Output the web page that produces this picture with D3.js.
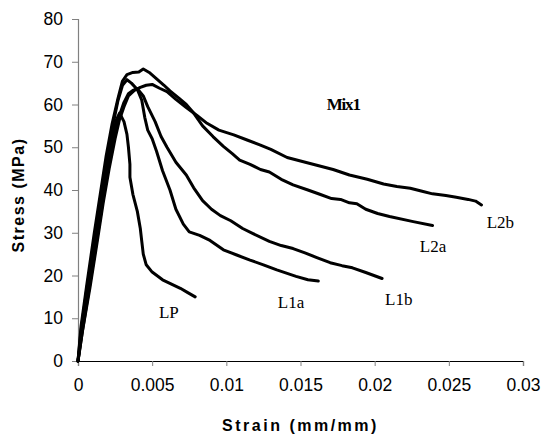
<!DOCTYPE html>
<html lang="en">
<head>
  <meta charset="UTF-8">
  <title>Mix1 stress-strain</title>
  <script src="https://d3js.org/d3.v7.min.js"></script>
  <style>
    body { margin: 0; background: #fff; }
    svg { display: block; }
    .tick text { font-family: "Liberation Sans", Arial, sans-serif; font-size: 17.5px; fill: #000; }
    .axis-title { font-family: "Liberation Sans", Arial, sans-serif; font-weight: bold; font-size: 16px; }
    .curve-label { font-family: "Liberation Serif", "Times New Roman", serif; font-size: 17px; }
  </style>
</head>
<body>
  <script>
    // strain (mm/mm), stress (MPa)
    const LP = [[0,0],[0.0002,7],[0.0006,17],[0.0011,28],[0.0015,37],[0.0019,45],[0.0023,52],[0.0026,56.5],[0.0028,58],
      [0.0031,56],[0.0033,53],[0.0034,50],[0.0035,46],[0.0035,43],[0.0037,39],[0.0040,35],[0.0042,31],[0.0043,28],
      [0.0044,25],[0.0046,22.5],[0.0050,20.8],[0.0057,19],[0.0063,18],[0.0069,17],[0.0074,16],[0.0079,15]];

    const L1a = [[0,0],[0.0003,8],[0.0007,18],[0.0012,30],[0.0016,39],[0.002,48],[0.0024,56],[0.0027,61],[0.003,64.5],
      [0.0033,65.8],[0.0036,65],[0.004,63.5],[0.0043,61],[0.0045,57],[0.0047,54],[0.0050,52],[0.0053,49],[0.0057,44.5],
      [0.0062,40],[0.0066,35.5],[0.0071,32],[0.0075,30.2],[0.0082,29.4],[0.0089,28.2],[0.0098,26],[0.0107,24.8],
      [0.0116,23.6],[0.0125,22.5],[0.0134,21.3],[0.0147,19.8],[0.0155,19],[0.0162,18.7]];

    const L1b = [[0,0],[0.0003,7],[0.0008,18],[0.0013,29],[0.0017,38],[0.0021,46],[0.0025,53],[0.0028,57.5],[0.0031,60.5],
      [0.0034,62.5],[0.0037,63.3],[0.004,63.7],[0.0044,62],[0.0047,59.5],[0.0052,56],[0.0056,52.5],[0.006,50],
      [0.0066,46.5],[0.0073,43.5],[0.0078,40.5],[0.0084,37.5],[0.009,35.5],[0.0096,34],[0.0103,32.8],[0.0111,31],
      [0.0118,29.8],[0.0129,28],[0.0137,27],[0.0145,26.3],[0.0153,25.3],[0.0161,24.2],[0.017,23],[0.0178,22.3],
      [0.0185,21.8],[0.0194,20.7],[0.0205,19.3]];

    const L2a = [[0,0],[0.0002,8],[0.0006,18],[0.0011,30],[0.0015,39],[0.0019,48],[0.0023,55.5],[0.0027,61.5],[0.003,65.5],
      [0.0033,67],[0.0037,67.5],[0.0041,67.6],[0.0044,68.3],[0.0048,67.5],[0.0053,66],[0.0058,64.5],[0.0062,63.2],
      [0.0068,61.5],[0.0073,60],[0.0078,58],[0.0084,55],[0.0091,52.5],[0.0098,50.2],[0.0104,48.5],[0.0109,47],
      [0.0116,46],[0.0123,44.8],[0.0129,44.2],[0.0137,42.5],[0.0145,41.2],[0.0155,40],[0.0163,39],[0.0171,38],
      [0.0177,37.8],[0.0183,37],[0.0188,36.8],[0.0194,35.5],[0.0202,34.5],[0.021,33.8],[0.0226,32.6],[0.0239,31.7]];

    const L2b = [[0,0],[0.0003,7],[0.0008,17],[0.0013,28],[0.0017,37],[0.0021,45],[0.0025,52],[0.0028,56.5],[0.0031,59.5],
      [0.0034,62],[0.0038,63.3],[0.0042,64],[0.0046,64.5],[0.005,64.7],[0.0055,63.8],[0.006,63],[0.0066,61.2],
      [0.0073,59.3],[0.008,57.5],[0.0087,55.6],[0.0095,54],[0.0105,52.9],[0.0114,51.7],[0.0123,50.5],[0.013,49.5],
      [0.0141,47.6],[0.015,46.8],[0.0161,45.8],[0.0172,44.8],[0.0183,43.5],[0.0195,42.5],[0.0206,41.4],[0.0215,40.8],
      [0.0224,40.4],[0.0232,39.7],[0.0239,39.1],[0.0248,38.7],[0.0255,38.3],[0.0263,37.8],[0.0268,37.4],[0.0272,36.5]];

    const seriesNames = ["LP", "L1a", "L1b", "L2a", "L2b"];
    const seriesData = [LP, L1a, L1b, L2a, L2b];

    // curve labels, anchored in data units
    const labelText = ["LP", "L1a", "L1b", "L2a", "L2b"];
    const labelAt = [[0.00546, 10], [0.01347, 12.4], [0.0207, 13.1], [0.02304, 25.5], [0.02755, 31.1]];

    const xTicks = [0, 0.005, 0.01, 0.015, 0.02, 0.025, 0.03];
    const yTicks = [0, 10, 20, 30, 40, 50, 60, 70, 80];

    const width = 544, height = 439;
    const margin = { left: 78, right: 21, top: 19, bottom: 78 };

    const svg = d3.select("body").append("svg")
      .attr("width", width)
      .attr("height", height);

    const x = d3.scaleLinear().domain([0, 0.03]).range([margin.left, width - margin.right]);
    const y = d3.scaleLinear().domain([0, 80]).range([height - margin.bottom, margin.top]);

    // y axis (grey line, ticks outward)
    const yAxis = svg.append("g")
      .attr("transform", `translate(${margin.left},0)`)
      .call(d3.axisLeft(y).tickValues(yTicks).tickFormat(d3.format("d")).tickSize(6).tickPadding(9));
    yAxis.select(".domain").attr("stroke", "#808080").attr("stroke-width", 1.2);
    yAxis.selectAll(".tick line").attr("stroke", "#808080");

    // x axis
    const xAxis = svg.append("g")
      .attr("transform", `translate(0,${y(0)})`)
      .call(d3.axisBottom(x).tickValues(xTicks).tickFormat(d => d === 0 ? "0" : String(d)).tickSize(5).tickPadding(13));
    xAxis.select(".domain").attr("stroke", "#000").attr("stroke-width", 1.2);
    xAxis.selectAll(".tick line").attr("stroke", "#808080");

    const line = d3.line()
      .x(d => x(d[0]))
      .y(d => y(d[1]));

    svg.append("g").selectAll("path")
      .data(seriesData)
      .join("path")
      .attr("class", (d, i) => "curve " + seriesNames[i])
      .attr("fill", "none")
      .attr("stroke", "#000")
      .attr("stroke-width", 3)
      .attr("stroke-linejoin", "round")
      .attr("stroke-linecap", "round")
      .attr("d", line);

    svg.append("g").selectAll("text")
      .data(labelText)
      .join("text")
      .attr("class", "curve-label")
      .attr("x", (d, i) => x(labelAt[i][0]))
      .attr("y", (d, i) => y(labelAt[i][1]))
      .text(d => d);

    svg.append("text")
      .attr("class", "curve-label")
      .attr("x", x(0.01677))
      .attr("y", y(58.7))
      .attr("font-weight", "bold")
      .attr("font-size", 19)
      .attr("letter-spacing", -1.2)
      .text("Mix1");

    svg.append("text")
      .attr("class", "axis-title")
      .attr("x", (x(0) + x(0.03)) / 2)
      .attr("y", 431)
      .attr("text-anchor", "middle")
      .attr("letter-spacing", 2.5)
      .text("Strain (mm/mm)");

    svg.append("text")
      .attr("class", "axis-title")
      .attr("transform", `translate(24,${(y(0) + y(80)) / 2 + 5}) rotate(-90)`)
      .attr("text-anchor", "middle")
      .attr("letter-spacing", 1.5)
      .text("Stress (MPa)");
  </script>
</body>
</html>
